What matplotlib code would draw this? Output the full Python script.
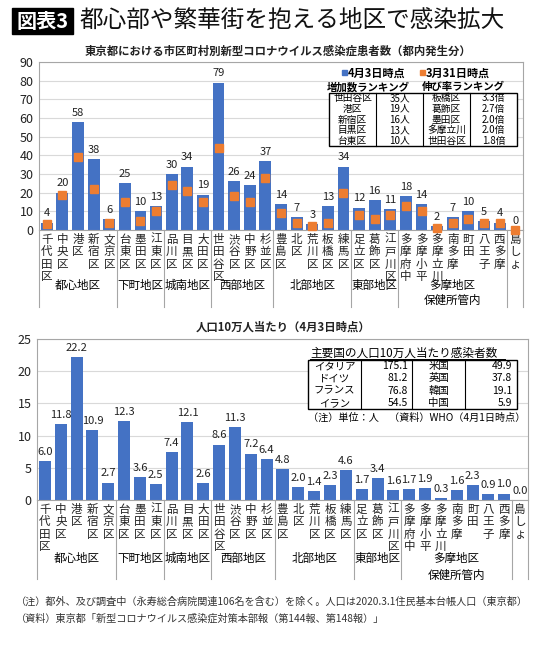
import numpy as np
import matplotlib.pyplot as plt
from matplotlib.patches import Rectangle

plt.rcParams['font.family'] = ['Noto Sans CJK JP', 'DejaVu Sans']

W, H = 550, 650

districts = ['千代田区', '中央区', '港区', '新宿区', '文京区', '台東区', '墨田区', '江東区',
             '品川区', '目黒区', '大田区', '世田谷区', '渋谷区', '中野区', '杉並区', '豊島区',
             '北区', '荒川区', '板橋区', '練馬区', '足立区', '葛飾区', '江戸川区', '多摩府中',
             '多摩小平', '多摩立川', '南多摩', '町田', '八王子', '西多摩', '島しょ']
cases_apr3 = [4, 20, 58, 38, 6, 25, 10, 13, 30, 34, 19, 79, 26, 24, 37, 14,
              7, 3, 13, 34, 12, 16, 11, 18, 14, 2, 7, 10, 5, 4, 0]
cases_mar31 = [3, 19, 39, 22, 4, 15, 5, 10, 24, 21, 15, 44, 18, 15, 28, 9,
               4, 2, 4, 20, 8, 6, 8, 13, 10, 1, 4, 6, 4, 4, 0]
per_100k = [6.0, 11.8, 22.2, 10.9, 2.7, 12.3, 3.6, 2.5, 7.4, 12.1, 2.6, 8.6, 11.3, 7.2, 6.4, 4.8,
            2.0, 1.4, 2.3, 4.6, 1.7, 3.4, 1.6, 1.7, 1.9, 0.3, 1.6, 2.3, 0.9, 1.0, 0.0]

group_names = ['都心地区', '下町地区', '城南地区', '西部地区', '北部地区', '東部地区',
               '多摩地区\n保健所管内', '']
group_sizes = [5, 3, 3, 4, 5, 3, 7, 1]

rank_inc_names = ['世田谷区', '港区', '新宿区', '目黒区', '台東区']
rank_inc_vals = ['35人', '19人', '16人', '13人', '10人']
rank_rate_names = ['板橋区', '葛飾区', '墨田区', '多摩立川', '世田谷区']
rank_rate_vals = ['3.3倍', '2.7倍', '2.0倍', '2.0倍', '1.8倍']

countries_l = ['イタリア', 'ドイツ', 'フランス', 'イラン']
vals_l = [175.1, 81.2, 76.8, 54.5]
countries_r = ['米国', '英国', '韓国', '中国']
vals_r = [49.9, 37.8, 19.1, 5.9]

BLUE = '#4472C4'
ORANGE = '#ED7D31'
GRID = '#d9d9d9'
SPINE = '#a6a6a6'


def box(l, t, r, b):
    # pixel box -> figure fraction
    return [l / W, 1 - b / H, (r - l) / W, (b - t) / H]


fig = plt.figure(figsize=(W / 100, H / 100), dpi=100)
fig.patch.set_facecolor('white')

x = np.arange(len(districts))
vlabels = ['\n'.join(list(d)) for d in districts]


def style_axes(ax, ymax, step, sep_px, g1_px, g2_px, ax_h):
    ax.set_xlim(-0.5, len(districts) - 0.5)
    ax.set_ylim(0, ymax)
    ax.set_yticks(np.arange(0, ymax + 1, step))
    ax.yaxis.grid(True, color=GRID, lw=0.8)
    ax.set_axisbelow(True)
    for s in ax.spines.values():
        s.set_color(SPINE)
        s.set_linewidth(0.8)
    ax.tick_params(length=0, labelsize=9, colors='#222222', pad=4)
    ax.set_xticks(x, vlabels)
    for t in ax.get_xticklabels():
        t.set_fontsize(8.3)
        t.set_linespacing(0.95)
        t.set_va('top')
    ax.tick_params(axis='x', pad=2)
    # group separators and group names under the axis
    tr = ax.get_xaxis_transform()
    edges = np.concatenate([[0], np.cumsum(group_sizes)]) - 0.5
    for e in edges:
        ax.plot([e, e], [0, -sep_px / ax_h], transform=tr, color=SPINE, lw=0.8, clip_on=False)
    for i, name in enumerate(group_names):
        if not name:
            continue
        mid = (edges[i] + edges[i + 1]) / 2
        ax.annotate(name, xy=(mid, 0), xycoords=tr, xytext=(0, -g1_px * 0.72),
                    textcoords='offset points', ha='center', va='top', fontsize=8.3,
                    linespacing=g2_px / 11.5)


# ---- top chart ----
ax1 = fig.add_axes(box(39, 62, 523, 230))
ax1.bar(x, cases_apr3, width=0.76, color=BLUE, zorder=2)
ax1.plot(x, cases_mar31, 's', color=ORANGE, ms=5.5, zorder=3, clip_on=False)
for xi, v in zip(x, cases_apr3):
    ax1.annotate(str(v), xy=(xi, v), xytext=(0, 3), textcoords='offset points',
                 ha='center', va='bottom', fontsize=8, color='#222222')
style_axes(ax1, 90, 10, 77, 49, 14, 168)

# ---- bottom chart ----
ax2 = fig.add_axes(box(37, 339, 528, 500))
ax2.bar(x, per_100k, width=0.76, color=BLUE, zorder=2)
for xi, v in zip(x, per_100k):
    ax2.annotate(f'{v:.1f}', xy=(xi, v), xytext=(0, 3), textcoords='offset points',
                 ha='center', va='bottom', fontsize=8, color='#222222')
style_axes(ax2, 25, 5, 79, 52, 16, 161)

# ---- overlay for titles, legend and tables ----
ov = fig.add_axes([0, 0, 1, 1])
ov.set_xlim(0, W)
ov.set_ylim(H, 0)
ov.axis('off')
ov.patch.set_alpha(0)

ov.add_patch(Rectangle((12, 8), 61, 26, color='black'))
ov.text(42.5, 21, '図表3', color='white', fontsize=14.5, fontweight='bold', ha='center', va='center')
ov.text(80, 20, '都心部や繁華街を抱える地区で感染拡大', fontsize=17, ha='left', va='center',
        color='#111111')
ov.text(278, 51, '東京都における市区町村別新型コロナウイルス感染症患者数（都内発生分）',
        fontsize=8.2, ha='center', va='center', fontweight='bold', color='#222222')
ov.text(283, 327, '人口10万人当たり（4月3日時点）', fontsize=8.2, ha='center', va='center',
        fontweight='bold', color='#222222')

# legend
ov.add_patch(Rectangle((342, 70), 5, 5, color=BLUE))
ov.text(348, 73.5, '4月3日時点', fontsize=8, ha='left', va='center', fontweight='bold')
ov.add_patch(Rectangle((420, 70), 5, 5, color=ORANGE))
ov.text(426, 73.5, '3月31日時点', fontsize=8, ha='left', va='center', fontweight='bold')

# ranking table
ov.text(368, 87, '増加数ランキング', fontsize=7.5, ha='center', va='center', fontweight='bold')
ov.text(463, 87, '伸び率ランキング', fontsize=7.5, ha='center', va='center', fontweight='bold')
ov.plot([332, 405], [93, 93], color='black', lw=0.7)
ov.plot([427, 499], [93, 93], color='black', lw=0.7)
t_l, t_r, t_t, t_b = 329, 517, 93, 146
ov.add_patch(Rectangle((t_l, t_t), t_r - t_l, t_b - t_t, facecolor='white', edgecolor='black',
                       lw=1.0, zorder=3))
cols = [329, 376, 423, 470, 517]
for c in cols[1:-1]:
    ov.plot([c, c], [t_t, t_b], color='black', lw=0.8, zorder=4)
rh = (t_b - t_t) / 5
for i in range(5):
    yc = t_t + rh * (i + 0.5)
    row = [rank_inc_names[i], rank_inc_vals[i], rank_rate_names[i], rank_rate_vals[i]]
    for j, s in enumerate(row):
        ov.text((cols[j] + cols[j + 1]) / 2, yc, s, fontsize=7, ha='center', va='center', zorder=5)

# country table
ov.text(310, 353, '主要国の人口10万人当たり感染者数', fontsize=8.4, ha='left', va='center')
ov.plot([310, 505], [359, 359], color='black', lw=0.7)
c_l, c_r, c_t, c_b = 308, 517, 360, 409
ov.add_patch(Rectangle((c_l, c_t), c_r - c_l, c_b - c_t, facecolor='white', edgecolor='black',
                       lw=1.0, zorder=3))
ccols = [308, 361, 412, 465, 517]
for c in ccols[1:-1]:
    ov.plot([c, c], [c_t, c_b], color='black', lw=0.8, zorder=4)
rh = (c_b - c_t) / 4
for i in range(4):
    yc = c_t + rh * (i + 0.5)
    ov.text((ccols[0] + ccols[1]) / 2, yc, countries_l[i], fontsize=7.5, ha='center', va='center', zorder=5)
    ov.text(ccols[2] - 4, yc, f'{vals_l[i]:.1f}', fontsize=7.5, ha='right', va='center', zorder=5)
    ov.text((ccols[2] + ccols[3]) / 2, yc, countries_r[i], fontsize=7.5, ha='center', va='center', zorder=5)
    ov.text(ccols[4] - 5, yc, f'{vals_r[i]:.1f}', fontsize=7.5, ha='right', va='center', zorder=5)
ov.text(308, 418, '（注）単位：人　（資料）WHO（4月1日時点）', fontsize=7.3, ha='left', va='center')

# footnotes
ov.text(16, 602, '（注）都外、及び調査中（永寿総合病院関連106名を含む）を除く。人口は2020.3.1住民基本台帳人口（東京都）',
        fontsize=7.3, ha='left', va='center', color='#333333')
ov.text(16, 619, '（資料）東京都「新型コロナウイルス感染症対策本部報（第144報、第148報）」',
        fontsize=7.3, ha='left', va='center', color='#333333')

fig.savefig('out.png', dpi=100, facecolor='white')
